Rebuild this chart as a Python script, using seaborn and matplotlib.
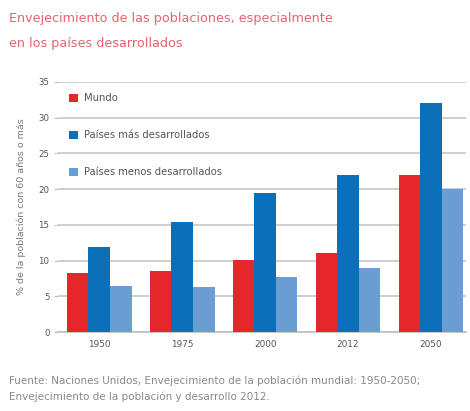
import matplotlib
matplotlib.use("Agg")
import matplotlib.pyplot as plt
import seaborn as sns
import pandas as pd

years = ["1950", "1975", "2000", "2012", "2050"]
series = ["Mundo", "Países más desarrollados", "Países menos desarrollados"]
mundo = [8.2, 8.6, 10.1, 11.1, 21.9]
mas_desarrollados = [11.9, 15.4, 19.4, 21.9, 32.0]
menos_desarrollados = [6.5, 6.25, 7.75, 9.0, 20.0]
colors = ["#e5262a", "#0b6fba", "#6a9ed3"]
yticks = [0, 5, 10, 15, 20, 25, 30, 35]

df = pd.DataFrame({
    "year": years * 3,
    "serie": [series[0]] * 5 + [series[1]] * 5 + [series[2]] * 5,
    "value": mundo + mas_desarrollados + menos_desarrollados,
})

sns.set_theme(style="white")
plt.rcParams["font.family"] = ["DejaVu Sans"]

fig = plt.figure(figsize=(4.70, 4.11), dpi=100)
ax = fig.add_axes([0.123, 0.192, 0.868, 0.609])

sns.barplot(data=df, x="year", y="value", hue="serie", order=years,
            hue_order=series, palette=colors, width=0.78, gap=0.0,
            saturation=1, ax=ax, zorder=3, linewidth=0)

ax.set_ylim(0, 35)
ax.set_xlim(-0.5, 4.42)
ax.set_yticks(yticks)
ax.set_yticklabels([str(t) for t in yticks])
ax.yaxis.grid(True, color="#cfcfcf", linewidth=1.4, zorder=0)
ax.set_axisbelow(True)
for s in ["top", "right", "left"]:
    ax.spines[s].set_visible(False)
ax.spines["bottom"].set_color("#bdbdbd")
ax.spines["bottom"].set_linewidth(1.2)
ax.tick_params(axis="y", length=3, width=0.8, color="#bdbdbd", labelsize=6.2,
               labelcolor="#555555", pad=3, left=True)
ax.tick_params(axis="x", length=0, labelsize=6.4, labelcolor="#555555", pad=6)
ax.set_xlabel("")
ax.set_ylabel("% de la población con 60 años o más", fontsize=6.8,
              color="#777777", labelpad=9)

leg = ax.legend(loc="upper left", bbox_to_anchor=(0.005, 0.99), frameon=False,
                fontsize=7.2, labelspacing=2.7, handlelength=0.95,
                handleheight=0.95, handletextpad=0.55, labelcolor="#555555")

fig.text(0.02, 0.955, "Envejecimiento de las poblaciones, especialmente",
         color="#e8636b", fontsize=9.2, ha="left", va="center")
fig.text(0.02, 0.895, "en los países desarrollados",
         color="#e8636b", fontsize=9.2, ha="left", va="center")
fig.text(0.02, 0.073, "Fuente: Naciones Unidos, Envejecimiento de la población mundial: 1950-2050;",
         color="#888888", fontsize=7.5, ha="left", va="center")
fig.text(0.02, 0.034, "Envejecimiento de la población y desarrollo 2012.",
         color="#888888", fontsize=7.5, ha="left", va="center")

fig.savefig("out.png", dpi=100, facecolor="white")
